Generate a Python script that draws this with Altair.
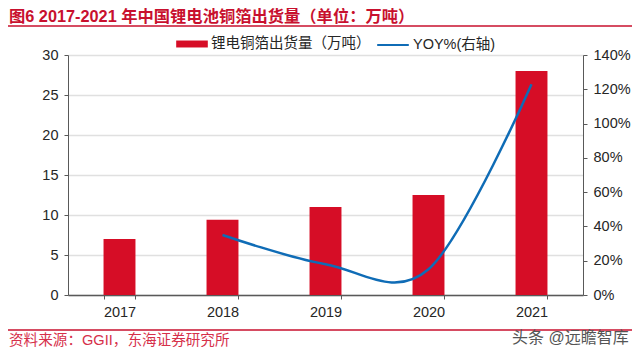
import altair as alt
import pandas as pd

years = ["2017", "2018", "2019", "2020", "2021"]
volume = [7.0, 9.4, 11.0, 12.5, 28.0]
yoy_years = ["2018", "2019", "2020", "2021"]
yoy = [0.35, 0.18, 0.15, 1.23]
BAR = "锂电铜箔出货量（万吨）"
LINE = "YOY%(右轴)"
FONT = "Liberation Sans, Noto Sans CJK SC"
RED = "#d60d26"
BLUE = "#0f6cb6"
GREY = "#595959"
TXT = "#262626"

bars_df = pd.DataFrame({"year": years, "v": volume, "s": BAR})
line_df = pd.DataFrame({"year": yoy_years, "v": yoy, "s": LINE})

x = alt.X("year:N", sort=years, title=None, scale=alt.Scale(paddingInner=0.69, paddingOuter=0.345),
          axis=alt.Axis(labelAngle=0, tickBand="extent", domainColor=GREY, tickColor=GREY, domainWidth=1.3,
                        labelFont=FONT, labelFontSize=14.5, labelColor=TXT, labelPadding=6,
                        tickSize=4, grid=False))

bars = alt.Chart(bars_df).mark_bar(color=RED).encode(
    x=x,
    y=alt.Y("v:Q", title=None, scale=alt.Scale(domain=[0, 30]),
            axis=alt.Axis(values=[0, 5, 10, 15, 20, 25, 30], grid=True, gridColor="#e0e0e0", gridWidth=1.3,
                          domainColor=GREY, tickColor=GREY, tickSize=4, labelFont=FONT, labelFontSize=14.5,
                          labelColor=TXT, labelPadding=6)),
    color=alt.Color("s:N", scale=alt.Scale(domain=[BAR], range=[RED]), title=None,
                    legend=alt.Legend(orient="none", legendX=108, legendY=-27, symbolType="M-1,-0.22H1V0.22H-1Z",
                                      symbolSize=1000, symbolStrokeWidth=0, labelFont=FONT, labelFontSize=14.5,
                                      labelColor=TXT, labelOffset=3, labelLimit=250)),
)

line = alt.Chart(line_df).mark_line(interpolate="cardinal", tension=0, strokeWidth=2.5, color=BLUE).encode(
    x=alt.X("year:N", sort=years),
    y=alt.Y("v:Q", title=None, scale=alt.Scale(domain=[0, 1.4]),
            axis=alt.Axis(orient="right", values=[0, 0.2, 0.4, 0.6, 0.8, 1.0, 1.2, 1.4], format=".0%",
                          grid=False, domainColor=GREY, tickColor=GREY, tickSize=4, labelFont=FONT,
                          labelFontSize=14.5, labelColor=TXT, labelPadding=6)),
    stroke=alt.Stroke("s:N", scale=alt.Scale(domain=[LINE], range=[BLUE]), title=None,
                      legend=alt.Legend(orient="none", legendX=308, legendY=-27, symbolType="stroke",
                                        symbolSize=1000, symbolStrokeWidth=2, labelFont=FONT, labelFontSize=14.5,
                                        labelColor=TXT, labelOffset=3)),
)

def note(text, px, py, color, size, weight="normal"):
    return alt.Chart(pd.DataFrame({"t": [text]})).mark_text(
        align="left", baseline="middle", font=FONT, fontSize=size, fontWeight=weight, color=color
    ).encode(x=alt.value(px), y=alt.value(py), text="t:N")

def hrule(py, color, w):
    return alt.Chart(pd.DataFrame({"a": [0]})).mark_rule(color=color, strokeWidth=w).encode(
        x=alt.value(-60), x2=alt.value(564), y=alt.value(py))

title = note("图6  2017-2021 年中国锂电池铜箔出货量（单位：万吨）", -59, -38, "#c8102e", 16.3, "bold")
source = note("资料来源：GGII，东海证券研究所", -59, 285.5, "#d6304a", 14.6)
mark = note("头条 @远瞻智库", 444, 283, "#555555", 16)

chart = alt.layer(bars, line, hrule(-29, "#c8102e", 1.5), hrule(275, "#c8102e", 1.5), title, source, mark).resolve_scale(
    y="independent", color="independent", stroke="independent"
).properties(
    width=515, height=240,
    padding={"left": 60, "top": 47, "right": 49, "bottom": 52},
    autosize=alt.AutoSizeParams(type="none"),
).configure_view(stroke=None)

chart.save("out.html", embed_options={"renderer": "svg", "actions": False})
